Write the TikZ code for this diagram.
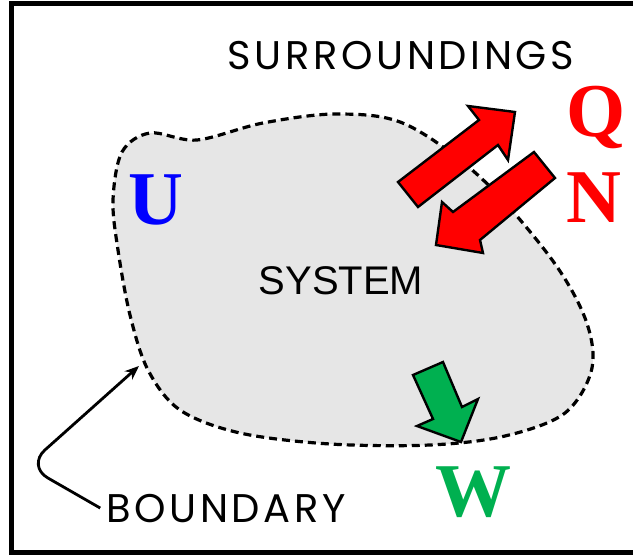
\documentclass[tikz,border=0pt]{standalone}
\usepackage{fontspec}
\setmainfont{Liberation Serif}
\newfontfamily\gothic[LetterSpace=9]{Poppins}
\newfontfamily\arial{Liberation Sans}
\definecolor{sysgray}{HTML}{E6E6E6}
\definecolor{heatred}{HTML}{FF0000}
\definecolor{workgreen}{HTML}{00B050}
\definecolor{energyblue}{HTML}{0000FF}
\usetikzlibrary{arrows.meta}
\tikzset{
  word/.style={font=\gothic\fontsize{40}{40}\selectfont, inner sep=0pt, anchor=base},
  sym/.style={font=\bfseries\fontsize{76}{76}\selectfont, inner sep=0pt, anchor=base},
  flux/.style={draw=black, line width=2.4pt, line join=miter},
  boundline/.style={draw=black, line width=3.2pt, dash pattern=on 8pt off 5pt, fill=sysgray},
  pointer/.style={-{Stealth[length=5mm,width=4mm]}, line width=2.8pt, rounded corners=24pt},
}
\begin{document}
\begin{tikzpicture}[x=1pt,y=-1pt]
\useasboundingbox (0,0) rectangle (633,556);
% system boundary
\draw[boundline] plot[smooth cycle, tension=0.55] coordinates {
  (113,200) (122,152) (150,133) (197,140) (263,123) (337,114) (405,124)
  (480,177) (550,257) (585,318) (592,368) (565,413) (505,436) (430,445)
  (330,444) (240,433) (180,410) (148,370) (130,315) (118,250)};
\draw[line width=5pt] (11.5,3.5) rectangle (660,553);
% labels
\node[word] (surr) at (401,70) {SURROUNDINGS};
\node[word, font=\arial\fontsize{40}{40}\selectfont] (sys) at (341,295) {SYSTEM};
\node[word] (bnd) at (226,522) {BOUNDARY};
\node[sym, text=heatred] (q) at (596,137) {Q};
\node[sym, text=heatred] (n) at (594,223) {N};
\node[sym, text=energyblue] (u) at (156,225) {U};
\node[sym, text=workgreen] (w) at (473,517) {W};
% heat in/out and work
\filldraw[flux, fill=heatred] (398,182) -- (479,120) -- (468,106) -- (515,112)
  -- (508,160) -- (498,145) -- (418,207) -- cycle;
\filldraw[flux, fill=heatred] (534,152) -- (555,178) -- (480,240) -- (483,253)
  -- (436,245) -- (442,202) -- (453,212) -- cycle;
\filldraw[flux, fill=workgreen] (413,375) -- (443,362) -- (462,407) -- (478,399)
  -- (461,442) -- (417,426) -- (433,419) -- cycle;
\coordinate (touch) at (139,366);
\draw[pointer] ([xshift=-6pt]bnd.west) -- (27,466) -- (touch);
\end{tikzpicture}
\end{document}
